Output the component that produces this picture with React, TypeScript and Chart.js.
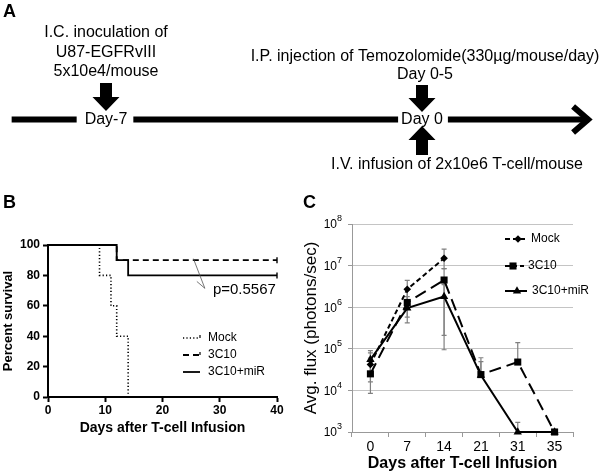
import React, { useEffect, useRef } from 'react';
import { Chart, registerables } from 'chart.js';

Chart.register(...registerables);

const FONT = "'Liberation Sans', Arial, Helvetica, sans-serif";

// ---------- Panel A: treatment timeline ----------
const timelineDays = [-7, 0];
const timelineDayLabels = ['Day-7', 'Day 0'];
const timelineAboveDay7 = ['I.C. inoculation of', 'U87-EGFRvIII', '5x10e4/mouse'];
const timelineAboveDay0 = ['I.P. injection of Temozolomide(330µg/mouse/day)', 'Day 0-5'];
const timelineBelowDay0 = ['I.V. infusion of 2x10e6 T-cell/mouse'];
const timelineRange = [-9.09, 3.79];

// ---------- Panel B: survival ----------
const mockDays = [0, 9, 11, 12, 14];
const mockSurvival = [100, 80, 60, 40, 0];
const c10Days = [0, 12, 40];
const c10Survival = [100, 90, 90];
const mirDays = [0, 12, 14, 40];
const mirSurvival = [100, 90, 80, 80];
const survivalXTicks = [0, 10, 20, 30, 40];
const survivalYTicks = [0, 20, 40, 60, 80, 100];
const pValueLabel = 'p=0.5567';
const pArrowDays = [25.4, 27.4, 26.0];
const pArrowPercent = [91, 71.5, 76];
const pLabelAt = [28.8, 70.4];

// ---------- Panel C: bioluminescence flux ----------
const fluxDayLabels = ['0', '7', '14', '21', '31', '35'];
const fluxExponents = [3, 4, 5, 6, 7, 8];
const mockFlux = [4.2e4, 2.7e6, 1.5e7, null, null, null];
const mockFluxLow = [2.5e4, 1.2e6, 8.5e6, null, null, null];
const mockFluxHigh = [9.0e4, 4.4e6, 2.5e7, null, null, null];
const c10Flux = [2.5e4, 1.3e6, 4.5e6, 2.4e4, 4.8e4, 1e3];
const c10FluxLow = [8.5e3, 5.8e5, 2.1e5, 2.4e4, 4.8e4, null];
const c10FluxHigh = [6.0e4, 2.6e6, 8.5e6, 6.1e4, 1.4e5, null];
const mirFlux = [5.5e4, 9.5e5, 1.8e6, 2.3e4, 1e3, 1e3];
const mirFluxLow = [1.6e4, 4.2e5, 9.5e4, 2.3e4, 1e3, null];
const mirFluxHigh = [8.0e4, 1.8e6, 3.5e6, 4.9e4, 1.7e3, null];

// ---------- helpers ----------
function blockArrow(ctx: CanvasRenderingContext2D, cx: number, yStart: number, yBase: number, yTip: number, shaftW: number, headW: number) {
  ctx.beginPath();
  ctx.moveTo(cx - shaftW / 2, yStart);
  ctx.lineTo(cx + shaftW / 2, yStart);
  ctx.lineTo(cx + shaftW / 2, yBase);
  ctx.lineTo(cx + headW / 2, yBase);
  ctx.lineTo(cx, yTip);
  ctx.lineTo(cx - headW / 2, yBase);
  ctx.lineTo(cx - shaftW / 2, yBase);
  ctx.closePath();
  ctx.fill();
}

function marker(ctx: CanvasRenderingContext2D, style: string, x: number, y: number, r: number) {
  ctx.beginPath();
  if (style === 'rectRot') {
    ctx.moveTo(x, y - r); ctx.lineTo(x + r, y); ctx.lineTo(x, y + r); ctx.lineTo(x - r, y);
  } else if (style === 'rect') {
    const s = r * Math.SQRT1_2;
    ctx.rect(x - s, y - s, 2 * s, 2 * s);
  } else {
    ctx.moveTo(x, y - r); ctx.lineTo(x + 0.866 * r, y + 0.5 * r); ctx.lineTo(x - 0.866 * r, y + 0.5 * r);
  }
  ctx.closePath();
  ctx.fill();
}

// ---------- Panel A config ----------
const timelinePlugin = {
  id: 'timeline',
  afterDraw(chart: any) {
    const { ctx } = chart;
    const xs = chart.scales.x;
    const Y = 119.5;
    ctx.save();
    ctx.fillStyle = '#000';
    ctx.strokeStyle = '#000';
    ctx.font = `bold 18px ${FONT}`;
    ctx.textAlign = 'left';
    ctx.textBaseline = 'alphabetic';
    ctx.fillText('A', 3, 17);

    ctx.font = `16px ${FONT}`;
    ctx.textAlign = 'center';
    ctx.textBaseline = 'middle';
    const gapL = [8, 3];
    const gapR = [6, 5];
    const cuts = timelineDays.map((d, i) => {
      const cx = xs.getPixelForValue(d);
      const w = ctx.measureText(timelineDayLabels[i]).width;
      ctx.fillText(timelineDayLabels[i], cx, Y);
      return [cx - w / 2 - gapL[i], cx + w / 2 + gapR[i]];
    });
    const xStart = xs.getPixelForValue(timelineRange[0]);
    const xEnd = xs.getPixelForValue(timelineRange[1]);
    ctx.lineWidth = 6;
    ctx.lineCap = 'butt';
    ctx.lineJoin = 'miter';
    ctx.beginPath();
    let s = xStart;
    for (const [a, b] of cuts) { ctx.moveTo(s, Y); ctx.lineTo(a, Y); s = b; }
    ctx.moveTo(s, Y); ctx.lineTo(xEnd - 4, Y);
    ctx.stroke();
    ctx.beginPath();
    ctx.moveTo(xEnd - 20, Y - 13); ctx.lineTo(xEnd - 5, Y); ctx.lineTo(xEnd - 20, Y + 13);
    ctx.stroke();

    const d7 = xs.getPixelForValue(timelineDays[0]);
    const d0 = xs.getPixelForValue(timelineDays[1]);
    blockArrow(ctx, d7, 83, 97, 111, 12, 27);
    blockArrow(ctx, d0, 85, 98, 112, 12, 27);
    blockArrow(ctx, d0, 155, 140, 126, 12, 27);

    [33, 53, 72].forEach((y, i) => ctx.fillText(timelineAboveDay7[i], d7, y));
    [57, 75].forEach((y, i) => ctx.fillText(timelineAboveDay0[i], d0 + 3, y));
    ctx.fillText(timelineBelowDay0[0], d0 + 35, 165);
    ctx.restore();
  },
};

function configA(): any {
  return {
    type: 'scatter',
    data: { datasets: [] },
    options: {
      responsive: false, animation: false, devicePixelRatio: 1,
      layout: { padding: 0 },
      plugins: { legend: { display: false }, tooltip: { enabled: false } },
      scales: {
        x: { type: 'linear', min: -9.348, max: 3.943, display: false },
        y: { type: 'linear', min: 0, max: 190, reverse: true, display: false },
      },
    },
    plugins: [timelinePlugin],
  };
}

// ---------- Panel B config ----------
const survivalDecor = {
  id: 'survivalDecor',
  afterDraw(chart: any) {
    const { ctx } = chart;
    const xs = chart.scales.x;
    const ys = chart.scales.y;
    ctx.save();
    ctx.fillStyle = '#000';
    ctx.font = `bold 18px ${FONT}`;
    ctx.textAlign = 'left';
    ctx.textBaseline = 'alphabetic';
    ctx.fillText('B', 3, 18);

    const rows = [148, 165, 182];
    chart.data.datasets.forEach((ds: any, i: number) => {
      ctx.strokeStyle = '#000';
      ctx.lineWidth = ds.borderWidth;
      ctx.setLineDash(ds.borderDash || []);
      ctx.beginPath(); ctx.moveTo(183, rows[i]); ctx.lineTo(200, rows[i]); ctx.stroke();
      ctx.setLineDash([]);
      if (i < 2) {
        ctx.lineWidth = 1.2;
        ctx.beginPath(); ctx.moveTo(200, rows[i] - 3); ctx.lineTo(200, rows[i]); ctx.stroke();
      }
      ctx.font = `12px ${FONT}`;
      ctx.textBaseline = 'middle';
      ctx.fillText(ds.label, 208, rows[i]);
    });

    ctx.strokeStyle = '#555';
    ctx.lineWidth = 0.8;
    const P = (i: number): [number, number] => [xs.getPixelForValue(pArrowDays[i]), ys.getPixelForValue(pArrowPercent[i])];
    ctx.beginPath();
    ctx.moveTo(...P(0)); ctx.lineTo(...P(1));
    ctx.moveTo(...P(2)); ctx.lineTo(...P(1));
    ctx.stroke();
    ctx.font = `15px ${FONT}`;
    ctx.textBaseline = 'middle';
    ctx.fillText(pValueLabel, xs.getPixelForValue(pLabelAt[0]), ys.getPixelForValue(pLabelAt[1]));
    ctx.restore();
  },
};

function configB(): any {
  const pts = (xs: number[], ys: number[]) => xs.map((x, i) => ({ x, y: ys[i] }));
  const endTick = (n: number) => (c: any) => (c.dataIndex === n - 1 ? 3 : 0);
  const axisCommon = (ticks: number[], size: number, afterFit: (s: any) => void, title: string, titleSize: number, titlePad: any) => ({
    type: 'linear',
    min: ticks[0], max: ticks[ticks.length - 1],
    afterBuildTicks: (s: any) => { s.ticks = ticks.map((v) => ({ value: v })); },
    afterFit,
    grid: { display: true, drawOnChartArea: false, drawTicks: true, tickLength: 5, tickWidth: 2, tickColor: '#000', color: '#000' },
    border: { display: true, color: '#000', width: 2 },
    ticks: { color: '#000', font: { family: FONT, size, weight: 'bold' }, padding: 2, maxRotation: 0, autoSkip: false },
    title: { display: true, text: title, color: '#000', font: { family: FONT, size: titleSize, weight: 'bold' }, padding: titlePad },
  });
  return {
    type: 'line',
    data: {
      datasets: [
        { label: 'Mock', data: pts(mockDays, mockSurvival), stepped: 'before', borderColor: '#000', borderWidth: 1.6, borderDash: [1.2, 2.2], pointRadius: 0, clip: false, fill: false },
        { label: '3C10', data: pts(c10Days, c10Survival), stepped: 'before', borderColor: '#000', borderWidth: 1.8, borderDash: [6, 4], pointStyle: 'line', pointRotation: 90, pointRadius: endTick(c10Days.length), pointBorderWidth: 1.4, pointBorderColor: '#000', clip: false, fill: false },
        { label: '3C10+miR', data: pts(mirDays, mirSurvival), stepped: 'before', borderColor: '#000', borderWidth: 1.8, pointStyle: 'line', pointRotation: 90, pointRadius: endTick(mirDays.length), pointBorderWidth: 1.4, pointBorderColor: '#000', clip: false, fill: false },
      ],
    },
    options: {
      responsive: false, animation: false, devicePixelRatio: 1,
      layout: { padding: { top: 55, right: 23, bottom: 36, left: 0 } },
      plugins: { legend: { display: false }, tooltip: { enabled: false } },
      scales: {
        x: { ...axisCommon(survivalXTicks, 12, (s: any) => { s.height = 40; }, 'Days after T-cell Infusion', 14, { top: 0, bottom: 0 }), ticks: { color: '#000', font: { family: FONT, size: 12, weight: 'bold' }, padding: 1, maxRotation: 0, autoSkip: false } },
        y: { ...axisCommon(survivalYTicks, 12, (s: any) => { s.width = 48; }, 'Percent survival', 13, { top: 1, bottom: 0 }), ticks: { color: '#000', font: { family: FONT, size: 12, weight: 'bold' }, padding: 3, autoSkip: false } },
      },
    },
    plugins: [survivalDecor],
  };
}

// ---------- Panel C config ----------
const fluxErrors = [
  [mockFluxLow, mockFluxHigh],
  [c10FluxLow, c10FluxHigh],
  [mirFluxLow, mirFluxHigh],
];

const errorBarPlugin = {
  id: 'errorBars',
  beforeDatasetsDraw(chart: any) {
    const { ctx } = chart;
    const ys = chart.scales.y;
    ctx.save();
    ctx.strokeStyle = '#808080';
    ctx.lineWidth = 1.2;
    fluxErrors.forEach(([low, high], di) => {
      const meta = chart.getDatasetMeta(di);
      high.forEach((h, j) => {
        if (h == null) return;
        const l = low[j] as number;
        const x = meta.data[j].x;
        const yH = ys.getPixelForValue(h);
        const yL = ys.getPixelForValue(l);
        ctx.beginPath();
        ctx.moveTo(x, yL); ctx.lineTo(x, yH);
        ctx.moveTo(x - 2.5, yH); ctx.lineTo(x + 2.5, yH);
        if (yL - ys.getPixelForValue(chart.data.datasets[di].data[j]) > 1) {
          ctx.moveTo(x - 2.5, yL); ctx.lineTo(x + 2.5, yL);
        }
        ctx.stroke();
      });
    });
    ctx.restore();
  },
};

const fluxDecor = {
  id: 'fluxDecor',
  afterDraw(chart: any) {
    const { ctx } = chart;
    const ys = chart.scales.y;
    ctx.save();
    ctx.fillStyle = '#000';
    ctx.font = `bold 18px ${FONT}`;
    ctx.textAlign = 'left';
    ctx.textBaseline = 'alphabetic';
    ctx.fillText('C', 3, 18);

    // y tick labels 10^n
    ctx.textAlign = 'right';
    ctx.textBaseline = 'middle';
    fluxExponents.forEach((e) => {
      const y = ys.getPixelForValue(Math.pow(10, e));
      ctx.font = `9px ${FONT}`;
      const ew = ctx.measureText(String(e)).width;
      ctx.fillText(String(e), 42, y - 5);
      ctx.font = `12px ${FONT}`;
      ctx.fillText('10', 42 - ew, y + 1);
    });

    // legend: line segments per series, marker, label
    const rows = [49, 76, 101];
    const segs = [
      [[205, 225]],
      [[205, 217], [220, 224]],
      [[205, 227]],
    ];
    const markX = [218, 213, 217];
    const textX = [231, 228, 232];
    ctx.textAlign = 'left';
    chart.data.datasets.forEach((ds: any, i: number) => {
      ctx.strokeStyle = '#000';
      ctx.lineWidth = 2;
      ctx.setLineDash(i === 1 ? [] : ds.borderDash || []);
      ctx.beginPath();
      segs[i].forEach(([a, b]) => { ctx.moveTo(a, rows[i]); ctx.lineTo(b, rows[i]); });
      ctx.stroke();
      ctx.setLineDash([]);
      marker(ctx, ds.pointStyle, markX[i], rows[i], ds.pointRadius);
      ctx.font = `12px ${FONT}`;
      ctx.fillText(ds.label, textX[i], rows[i]);
    });
    ctx.restore();
  },
};

function configC(): any {
  const line = (label: string, data: any[], dash: number[], style: string, r: number) => ({
    label, data, borderColor: '#000', backgroundColor: '#000', borderWidth: 2, borderDash: dash,
    pointStyle: style, pointRadius: r, pointBackgroundColor: '#000', pointBorderColor: '#000', pointBorderWidth: 0,
    tension: 0, fill: false, clip: false, spanGaps: false,
  });
  return {
    type: 'line',
    data: {
      labels: fluxDayLabels,
      datasets: [
        line('Mock', mockFlux, [5, 3], 'rectRot', 3.8),
        line('3C10', c10Flux, [12, 6], 'rect', 5),
        line('3C10+miR', mirFlux, [], 'triangle', 4.8),
      ],
    },
    options: {
      responsive: false, animation: false, devicePixelRatio: 1,
      layout: { padding: { top: 34, right: 27, bottom: 0, left: 0 } },
      plugins: { legend: { display: false }, tooltip: { enabled: false } },
      scales: {
        x: {
          type: 'category', offset: true,
          afterFit: (s: any) => { s.height = 41; },
          grid: { display: true, offset: true, drawOnChartArea: false, drawTicks: true, tickLength: 5, color: '#999', tickColor: '#999' },
          border: { display: true, color: '#999', width: 1 },
          ticks: { color: '#000', font: { family: FONT, size: 14 }, padding: 2, maxRotation: 0, autoSkip: false },
          title: { display: true, text: 'Days after T-cell Infusion', color: '#000', font: { family: FONT, size: 16, weight: 'bold' }, padding: { top: 0, bottom: 0 } },
        },
        y: {
          type: 'logarithmic', min: 1e3, max: 1e8,
          afterBuildTicks: (s: any) => { s.ticks = fluxExponents.map((e) => ({ value: Math.pow(10, e) })); },
          afterFit: (s: any) => { s.width = 52; },
          grid: { display: true, color: '#c4c4c4', lineWidth: 1, drawTicks: true, tickLength: 4, tickColor: '#999' },
          border: { display: true, color: '#999', width: 1 },
          ticks: { display: false },
          title: { display: true, text: 'Avg. flux (photons/sec)', color: '#000', font: { family: FONT, size: 17 }, padding: { top: 1, bottom: 0 } },
        },
      },
    },
    plugins: [errorBarPlugin, fluxDecor],
  };
}

function ChartBox({ left, top, width, height, make }: { left: number; top: number; width: number; height: number; make: () => any }) {
  const ref = useRef<HTMLCanvasElement>(null);
  useEffect(() => {
    const chart = new Chart(ref.current as HTMLCanvasElement, make());
    return () => chart.destroy();
  }, []);
  return (
    <div style={{ position: 'absolute', left, top, width, height }}>
      <canvas ref={ref} width={width} height={height} style={{ width, height, display: 'block' }} />
    </div>
  );
}

export default function App() {
  return (
    <div style={{ position: 'absolute', left: 0, top: 0, width: 600, height: 473, background: '#fff', overflow: 'hidden' }}>
      <ChartBox left={0} top={0} width={600} height={190} make={configA} />
      <ChartBox left={0} top={190} width={300} height={283} make={configB} />
      <ChartBox left={300} top={190} width={300} height={283} make={configC} />
    </div>
  );
}
